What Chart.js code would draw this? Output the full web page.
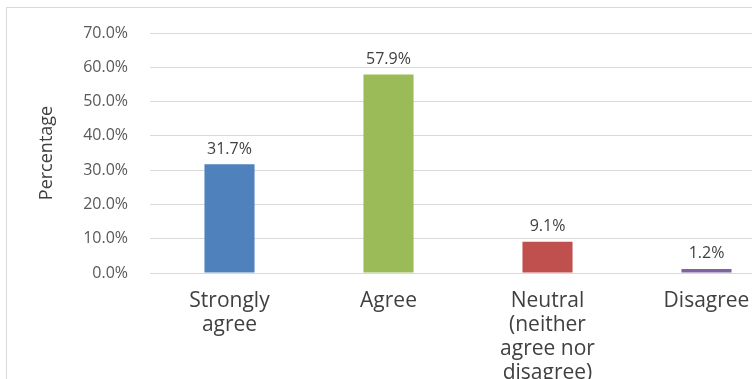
<!DOCTYPE html>
<html>
<head>
<meta charset="utf-8">
<script src="https://cdn.jsdelivr.net/npm/chart.js@4"></script>
<style>
  html, body { margin: 0; padding: 0; background: #fff; overflow: hidden; }
  #frame {
    position: absolute; left: 6px; top: 7px;
    width: 800px; height: 400px;
    border-left: 1px solid #d9d9d9; border-top: 1px solid #d9d9d9;
  }
  #chart { display: block; }
</style>
</head>
<body>
<div id="frame">
  <canvas id="chart" width="779" height="371"></canvas>
</div>
<script>
// Respuestas de la encuesta (porcentaje)
const categorias = [
    ['Strongly', 'agree'],
    ['Agree'],
    ['Neutral', '(neither', 'agree nor', 'disagree)'],
    ['Disagree']
];
const porcentajes = [31.7, 57.9, 9.1, 1.2];
const colores = ['#4f81bd', '#9bbb59', '#c0504d', '#8064a2'];
const ejeMax = 70;
const ejePaso = 10;

// Etiqueta con el valor encima de cada barra
const etiquetasValor = {
    id: 'etiquetasValor',
    afterDatasetsDraw(chart) {
        const ctx = chart.ctx;
        const meta = chart.getDatasetMeta(0);
        ctx.save();
        ctx.font = '16px "Open Sans"';
        ctx.fillStyle = '#404040';
        ctx.textAlign = 'center';
        ctx.textBaseline = 'bottom';
        meta.data.forEach((bar, i) => {
            ctx.fillText(porcentajes[i].toFixed(1) + '%', bar.x, bar.y - 7);
        });
        ctx.restore();
    }
};

const ctx = document.getElementById('chart').getContext('2d');
new Chart(ctx, {
    type: 'bar',
    data: {
        labels: categorias,
        datasets: [{
            data: porcentajes,
            backgroundColor: colores,
            borderWidth: 0,
            categoryPercentage: 1,
            barPercentage: 0.315
        }]
    },
    options: {
        responsive: false,
        animation: false,
        layout: { padding: { left: 29, top: 25, right: 0, bottom: 0 } },
        plugins: {
            legend: { display: false },
            tooltip: { enabled: false }
        },
        scales: {
            x: {
                grid: { display: false },
                border: { color: '#d9d9d9' },
                ticks: {
                    color: '#404040',
                    font: { family: 'Open Sans', size: 21, lineHeight: 1.14 },
                    padding: 8,
                    maxRotation: 0,
                    autoSkip: false
                },
                afterFit(scale) {
                    scale.height = 106;
                    scale.paddingTop = 0;
                    scale.paddingBottom = 0;
                }
            },
            y: {
                min: 0,
                max: ejeMax,
                grid: { color: '#d9d9d9', drawTicks: false },
                border: { display: false },
                ticks: {
                    stepSize: ejePaso,
                    color: '#595959',
                    font: { family: 'Open Sans', size: 16 },
                    padding: 22,
                    callback: v => v.toFixed(1) + '%'
                },
                title: {
                    display: true,
                    text: 'Percentage',
                    color: '#404040',
                    font: { family: 'Open Sans', size: 18 },
                    padding: 0
                },
                afterFit(scale) {
                    scale.width = 114;
                    scale.paddingTop = 0;
                    scale.paddingBottom = 0;
                }
            }
        }
    },
    plugins: [etiquetasValor]
});
</script>
</body>
</html>
